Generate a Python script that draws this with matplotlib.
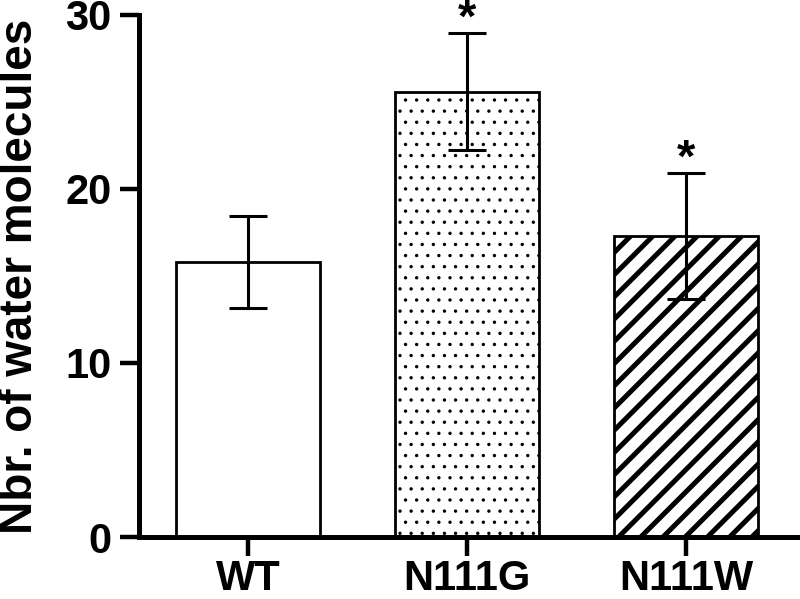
import matplotlib
matplotlib.use('Agg')
import matplotlib.pyplot as plt
import numpy as np

# values
categories = ['WT', 'N111G', 'N111W']
means = [15.8, 25.6, 17.3]
errs = [2.65, 3.35, 3.6]
hatches = ['', '...', '///']
hatch_lw = [1.0, 0.4, 1.8]
stars = ['', '*', '*']

plt.rcParams['font.family'] = ['Liberation Sans', 'DejaVu Sans']
plt.rcParams['font.weight'] = 'bold'

# dpi 200 so hatch spacing gets close to the original
fig = plt.figure(figsize=(4, 2.995), dpi=200)
ax = fig.add_axes([0.174, 0.1035, 0.826, 0.8715])

x = np.arange(len(categories))
for xi, m, h, hl in zip(x, means, hatches, hatch_lw):
    with plt.rc_context({'hatch.linewidth': hl}):
        bars = ax.bar(xi, m, width=0.66, color='white', edgecolor='black',
                      linewidth=1.0, hatch=h, zorder=2)
    for b in bars:
        if hasattr(b, 'set_hatch_linewidth'):
            b.set_hatch_linewidth(hl)

ax.errorbar(x, means, yerr=errs, fmt='none', ecolor='black',
            elinewidth=1.1, capsize=7, capthick=1.1, zorder=3)

for xi, m, e, s in zip(x, means, errs, stars):
    if s:
        ax.annotate(s, (xi, m + e), xytext=(0, -3), textcoords='offset points',
                    ha='center', va='bottom', fontsize=17, fontweight='bold')

ax.set_xlim(-0.498, 2.52)
ax.set_ylim(0, 30)
ax.set_yticks([0, 10, 20, 30])
ax.set_xticks(x)
ax.set_xticklabels(categories)

for side in ['top', 'right']:
    ax.spines[side].set_visible(False)
for side in ['left', 'bottom']:
    ax.spines[side].set_linewidth(1.8)

ax.tick_params(axis='y', length=7, width=1.6, labelsize=15, pad=3)
ax.tick_params(axis='x', length=7, width=1.6, labelsize=15, pad=1)

ax.set_ylabel('Nbr. of water molecules', fontsize=16.5, fontweight='bold')
ax.yaxis.set_label_coords(-0.147, 0.5)

fig.savefig('out.png', dpi=200)
